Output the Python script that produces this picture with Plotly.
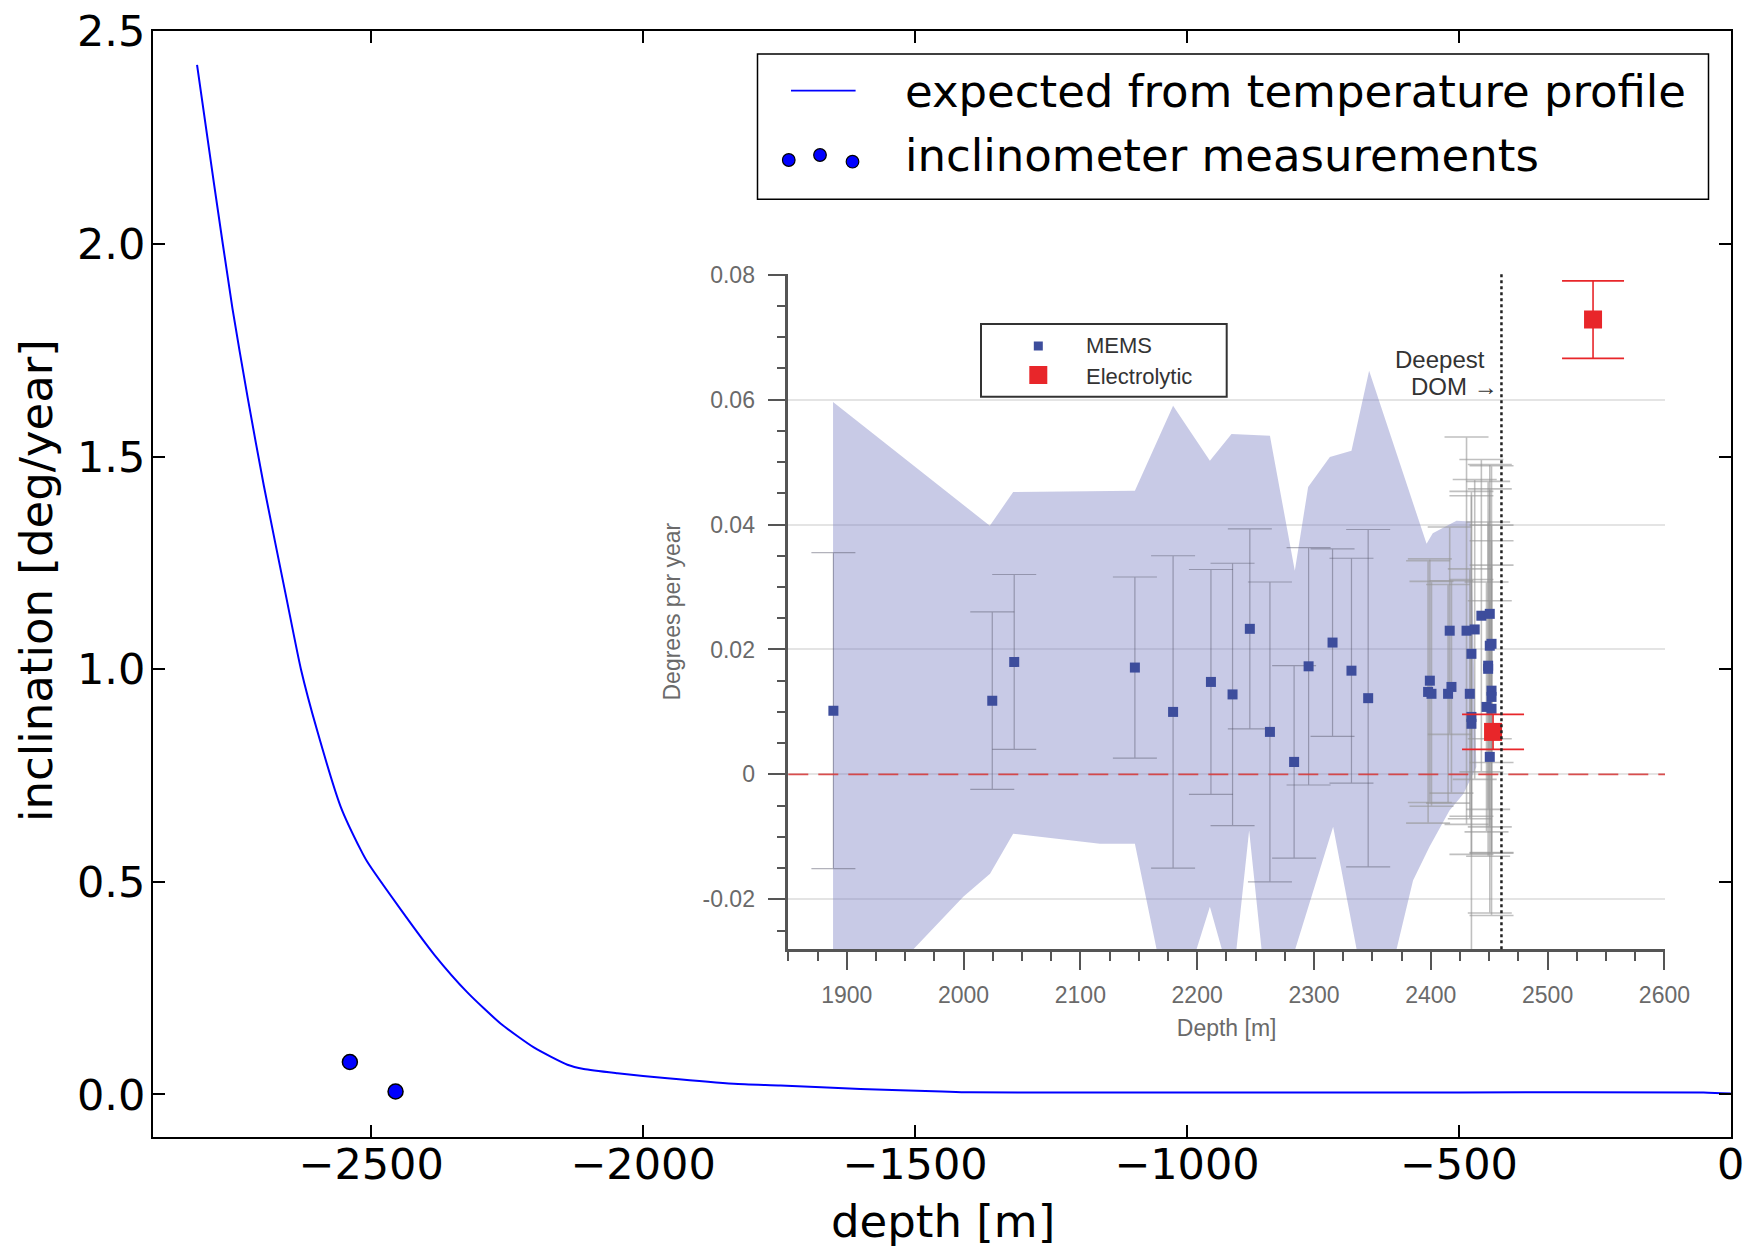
import plotly.graph_objects as go

# ---------------- data: main panel ----------------
curve_depth = [-2820, -2789, -2755, -2727, -2697, -2655, -2629, -2599, -2556, -2519, -2507,
               -2445, -2384, -2323, -2262, -2200, -2139, -2109, -2047, -1955, -1833, -1747,
               -1600, -1450, -1400, -1000, -500, -50, 0]
curve_val = [2.421, 2.143, 1.849, 1.639, 1.430, 1.163, 1.000, 0.855, 0.677, 0.575, 0.547,
             0.434, 0.329, 0.240, 0.167, 0.110, 0.070, 0.060, 0.050, 0.038, 0.025, 0.021,
             0.013, 0.007, 0.005, 0.0047, 0.0047, 0.0047, 0.002]

meas_depth = [-2539, -2455]
meas_val = [0.0764, 0.007]

main_xticks = [-2500, -2000, -1500, -1000, -500, 0]
main_xticklabels = ["\u22122500", "\u22122000", "\u22121500", "\u22121000", "\u2212500", "0"]
main_yticks = [0.0, 0.5, 1.0, 1.5, 2.0, 2.5]
main_yticklabels = ["0.0", "0.5", "1.0", "1.5", "2.0", "2.5"]

# ---------------- data: inset ----------------
mems_depth = [1888.6, 2024.6, 2043.4, 2146.7, 2179.4, 2211.8, 2230.3, 2245.1, 2262.3, 2283.0,
              2295.4, 2315.9, 2332.1, 2346.4,
              2399.2, 2397.7, 2400.6, 2416.2, 2417.7, 2414.8, 2430.6, 2437.6, 2434.8, 2433.4,
              2434.8, 2434.8, 2443.3, 2450.5, 2450.5, 2452.0, 2449.1, 2449.1, 2452.0, 2452.0,
              2447.7, 2452.0, 2450.5]
mems_val = [0.0102, 0.0118, 0.0180, 0.0171, 0.0100, 0.0148, 0.0128, 0.0233, 0.0068, 0.0020,
            0.0173, 0.0211, 0.0166, 0.0122,
            0.0150, 0.0132, 0.0129, 0.0230, 0.0140, 0.0129, 0.0230, 0.0232, 0.0193, 0.0129,
            0.0092, 0.0081, 0.0254, 0.0257, 0.0206, 0.0209, 0.0174, 0.0169, 0.0134, 0.0124,
            0.0108, 0.0105, 0.0028]
mems_err = [0.0253, 0.0142, 0.0140, 0.0145, 0.0250, 0.0180, 0.0210, 0.0160, 0.0240, 0.0154,
            0.0190, 0.0150, 0.0180, 0.0270,
            0.0195, 0.0210, 0.0180, 0.0166, 0.0170, 0.0175, 0.0310, 0.0240, 0.0260, 0.0200,
            0.0220, 0.0365, 0.0250, 0.0200, 0.0290, 0.0190, 0.0230, 0.0300, 0.0360, 0.0250,
            0.0200, 0.0230, 0.0250]

electro_depth = [2538.9, 2453.3]
electro_val = [0.0728, 0.0068]
electro_err = [0.0062, 0.0028]

band_upper_depth = [1888.3, 2022.5, 2042.5, 2146.7, 2179.4, 2210.9, 2229.4, 2262.3, 2283.6,
                    2295.0, 2313.6, 2332.1, 2347.2, 2396.4, 2401.7, 2422.0, 2434.0]
band_upper_val = [0.0596, 0.0398, 0.0452, 0.0454, 0.0590, 0.0502, 0.0545, 0.0542, 0.0326,
                  0.0460, 0.0508, 0.0518, 0.0646, 0.0369, 0.0386, 0.0406, 0.0405]
band_lower_depth = [1888.3, 1999.8, 2022.7, 2042.5, 2116.8, 2146.7, 2178.8, 2210.9, 2230.2,
                    2244.5, 2262.4, 2316.4, 2351.7, 2384.8, 2398.9, 2416.0, 2428.0, 2439.0]
band_lower_val = [-0.0415, -0.0196, -0.0159, -0.0095, -0.0111, -0.0111, -0.0403, -0.0212, -0.0340,
                  -0.0090, -0.0410, -0.0084, -0.0428, -0.0170, -0.0116, -0.0058, -0.0031, 0.0012]

deepest_dom_depth = 2460.5
cluster_start_depth = 2390

inset_xticks = [1900, 2000, 2100, 2200, 2300, 2400, 2500, 2600]
inset_yticks = [-0.02, 0.0, 0.02, 0.04, 0.06, 0.08]
inset_yticklabels = ["-0.02", "0", "0.02", "0.04", "0.06", "0.08"]

# ---------------- layout geometry (pixels) ----------------
FIG_W, FIG_H = 1760, 1247
ML, MR, MT, MB = 153, 29, 31, 110
PL, PR, PT, PB = ML, FIG_W - MR, MT, FIG_H - MB


def px(x):
    return (x - PL) / (PR - PL)


def py(y):
    return (PB - y) / (PB - PT)


MAIN_FONT = "DejaVu Sans"
INSET_FONT = "Liberation Sans, Arial, sans-serif"
MEMS_COLOR = "#3d4d9c"
RED = "#e8262a"
INSET_TEXT = "#6a6a6a"

fig = go.Figure()

# main curve
fig.add_trace(go.Scatter(x=curve_depth, y=curve_val, mode="lines",
                         line=dict(color="#0000ff", width=2, shape="spline", smoothing=0.6),
                         xaxis="x", yaxis="y",
                         name="expected from temperature profile", showlegend=False))
fig.add_trace(go.Scatter(x=meas_depth, y=meas_val, mode="markers",
                         marker=dict(color="#0000ff", size=15, line=dict(color="black", width=1.5)),
                         xaxis="x", yaxis="y", name="inclinometer measurements", showlegend=False))

# inset band
band_x = band_upper_depth + band_lower_depth[::-1]
band_y = band_upper_val + band_lower_val[::-1]
fig.add_trace(go.Scatter(x=band_x, y=band_y, mode="lines", fill="toself",
                         fillcolor="rgba(125,129,195,0.42)", line=dict(width=0),
                         xaxis="x2", yaxis="y2", showlegend=False, hoverinfo="skip"))

# MEMS split: sparse part and the near-DOM cluster
far = [i for i, d in enumerate(mems_depth) if d < cluster_start_depth]
clu = [i for i, d in enumerate(mems_depth) if d >= cluster_start_depth]

fig.add_trace(go.Scatter(x=[mems_depth[i] for i in clu], y=[mems_val[i] for i in clu],
                         mode="markers",
                         error_y=dict(type="data", array=[mems_err[i] for i in clu],
                                      color="rgba(150,150,150,0.6)", thickness=1.6, width=22),
                         marker=dict(symbol="square", size=10, color=MEMS_COLOR),
                         xaxis="x2", yaxis="y2", showlegend=False))
fig.add_trace(go.Scatter(x=[mems_depth[i] for i in far], y=[mems_val[i] for i in far],
                         mode="markers",
                         error_y=dict(type="data", array=[mems_err[i] for i in far],
                                      color="rgba(85,85,105,0.45)", thickness=1.2, width=22),
                         marker=dict(symbol="square", size=10, color=MEMS_COLOR),
                         xaxis="x2", yaxis="y2", showlegend=False))
fig.add_trace(go.Scatter(x=electro_depth, y=electro_val, mode="markers",
                         error_y=dict(type="data", array=electro_err, color=RED,
                                      thickness=1.6, width=31),
                         marker=dict(symbol="square", size=18, color=RED),
                         xaxis="x2", yaxis="y2", showlegend=False))

shapes = []
# zero reference line and deepest-DOM line in the inset
shapes.append(dict(type="line", xref="x2 domain", yref="y2", x0=0, x1=1, y0=0, y1=0,
                   line=dict(color="rgba(215,60,60,0.9)", width=1.8, dash="20px,10px")))
shapes.append(dict(type="line", xref="x2", yref="y2 domain", x0=deepest_dom_depth,
                   x1=deepest_dom_depth, y0=0, y1=1,
                   line=dict(color="#222222", width=2.5, dash="dot")))

# main legend box
shapes.append(dict(type="rect", xref="paper", yref="paper", x0=px(757.5), x1=px(1708.5),
                   y0=py(199.3), y1=py(54), line=dict(color="black", width=1.5),
                   fillcolor="white", layer="above"))
shapes.append(dict(type="line", xref="paper", yref="paper", x0=px(791), x1=px(855.6),
                   y0=py(90.7), y1=py(90.7), line=dict(color="#0000ff", width=1.8)))
for cx, cy in [(788.75, 160), (820, 155), (852.5, 161.7)]:
    r = 6.3
    shapes.append(dict(type="circle", xref="paper", yref="paper", x0=px(cx - r), x1=px(cx + r),
                       y0=py(cy + r), y1=py(cy - r), fillcolor="#0000ff",
                       line=dict(color="black", width=1.2)))

# inset legend box
shapes.append(dict(type="rect", xref="paper", yref="paper", x0=px(981), x1=px(1226.7),
                   y0=py(396.7), y1=py(324), line=dict(color="#333333", width=2),
                   fillcolor="rgba(255,255,255,0.9)"))
for cx, cy, s, col in [(1038.3, 346, 9, MEMS_COLOR), (1038.3, 375, 18, RED)]:
    shapes.append(dict(type="rect", xref="paper", yref="paper", x0=px(cx - s / 2), x1=px(cx + s / 2),
                       y0=py(cy + s / 2), y1=py(cy - s / 2), fillcolor=col, line=dict(width=0)))

annotations = [
    dict(text="expected from temperature profile", x=px(903), y=py(91), xref="paper", yref="paper",
         xanchor="left", yanchor="middle", showarrow=False,
         font=dict(family=MAIN_FONT, size=45, color="black")),
    dict(text="inclinometer measurements", x=px(903), y=py(155), xref="paper", yref="paper",
         xanchor="left", yanchor="middle", showarrow=False,
         font=dict(family=MAIN_FONT, size=45, color="black")),
    dict(text="depth [m]", x=px(943), y=py(1221), xref="paper", yref="paper",
         xanchor="center", yanchor="middle", showarrow=False,
         font=dict(family=MAIN_FONT, size=45, color="black")),
    dict(text="inclination [deg/year]", x=px(36), y=py(581), xref="paper", yref="paper",
         xanchor="center", yanchor="middle", showarrow=False, textangle=-90,
         font=dict(family=MAIN_FONT, size=45, color="black")),
    dict(text="MEMS", x=px(1084), y=py(346), xref="paper", yref="paper",
         xanchor="left", yanchor="middle", showarrow=False,
         font=dict(family=INSET_FONT, size=22, color="#333333")),
    dict(text="Electrolytic", x=px(1084), y=py(376.5), xref="paper", yref="paper",
         xanchor="left", yanchor="middle", showarrow=False,
         font=dict(family=INSET_FONT, size=22, color="#333333")),
    dict(text="Deepest", x=px(1487), y=py(359), xref="paper", yref="paper",
         xanchor="right", yanchor="middle", showarrow=False,
         font=dict(family=INSET_FONT, size=24, color="#333333")),
    dict(text="DOM \u2192", x=px(1500), y=py(386), xref="paper", yref="paper",
         xanchor="right", yanchor="middle", showarrow=False,
         font=dict(family=INSET_FONT, size=24, color="#333333")),
]

inset_x0, inset_x1 = px(788.3), px(1665)
inset_y0, inset_y1 = py(949.3), py(274)

fig.update_layout(
    width=FIG_W, height=FIG_H,
    margin=dict(l=ML, r=MR, t=MT, b=MB, pad=0, autoexpand=False),
    paper_bgcolor="white", plot_bgcolor="white",
    showlegend=False,
    shapes=shapes, annotations=annotations,
    xaxis=dict(domain=[0, 1], range=[-2901, 0.5], anchor="y", automargin=False,
               tickvals=main_xticks, ticktext=main_xticklabels,
               ticks="inside", ticklen=12, tickwidth=1.5, tickcolor="black",
               showline=True, linecolor="black", linewidth=2, mirror="ticks",
               showgrid=False, zeroline=False, ticklabelstandoff=-12,
               tickfont=dict(family=MAIN_FONT, size=43, color="black")),
    yaxis=dict(domain=[0, 1], range=[-0.1, 2.5005], anchor="x", automargin=False,
               tickvals=main_yticks, ticktext=main_yticklabels,
               ticks="inside", ticklen=12, tickwidth=1.5, tickcolor="black",
               showline=True, linecolor="black", linewidth=2, mirror="ticks",
               showgrid=False, zeroline=False, ticklabelstandoff=-3,
               tickfont=dict(family=MAIN_FONT, size=43, color="black")),
    xaxis2=dict(domain=[inset_x0, inset_x1], range=[1850, 2600.5], anchor="y2", automargin=False,
                tickvals=inset_xticks, ticks="outside", ticklen=18, tickwidth=2, tickcolor="#555555",
                minor=dict(dtick=25, tick0=1850, ticks="outside", ticklen=9, tickwidth=2,
                           tickcolor="#555555", showgrid=False),
                showline=True, linecolor="#555555", linewidth=2.5,
                showgrid=False, zeroline=False, ticklabelstandoff=5,
                tickfont=dict(family=INSET_FONT, size=23, color=INSET_TEXT),
                title=dict(text="Depth [m]", font=dict(family=INSET_FONT, size=23, color=INSET_TEXT),
                           standoff=14)),
    yaxis2=dict(domain=[inset_y0, inset_y1], range=[-0.028, 0.0801], anchor="x2", automargin=False,
                tickvals=inset_yticks, ticktext=inset_yticklabels,
                ticks="outside", ticklen=18, tickwidth=2, tickcolor="#555555",
                minor=dict(dtick=0.005, tick0=0, ticks="outside", ticklen=9, tickwidth=2,
                           tickcolor="#555555", showgrid=False),
                showline=True, linecolor="#555555", linewidth=2.5,
                showgrid=True, gridcolor="#e4e4e4", gridwidth=2, zeroline=False,
                ticklabelstandoff=8,
                tickfont=dict(family=INSET_FONT, size=23, color=INSET_TEXT),
                title=dict(text="Degrees per year", font=dict(family=INSET_FONT, size=23, color=INSET_TEXT),
                           standoff=16)),
)

fig.write_html("out.html", config={"displayModeBar": False})
